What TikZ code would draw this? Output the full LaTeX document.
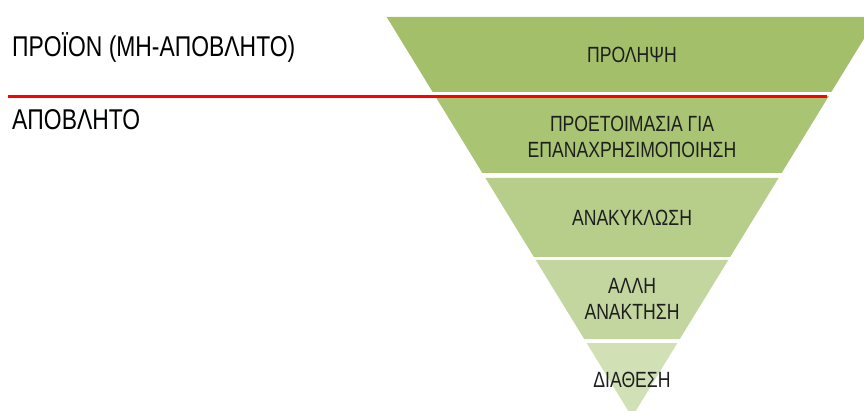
\documentclass[tikz,border=0pt]{standalone}
\usepackage{fontspec}
\setmainfont[FakeStretch=0.8]{Liberation Sans}
\definecolor{bandA}{HTML}{A3BF69}
\definecolor{bandB}{HTML}{A9C472}
\definecolor{bandC}{HTML}{B7CD8A}
\definecolor{bandD}{HTML}{C3D69F}
\definecolor{bandE}{HTML}{D1E1B5}
\definecolor{txt}{HTML}{1E1E1E}
\newcommand{\fband}[3]{%
  \fill[#3] ({632-(417-#1)*0.6133},#1) -- ({632+(417-#1)*0.6133},#1)
    -- ({632+(417-#2)*0.6133},#2) -- ({632-(417-#2)*0.6133},#2) -- cycle;}
\begin{document}
\begin{tikzpicture}[x=1pt,y=-1pt,
  bandlabel/.style={inner sep=0pt, text=txt, font=\fontsize{22}{26}\selectfont, align=center},
  sidelabel/.style={inner sep=0pt, text=black, font=\fontsize{28.6}{32}\selectfont, anchor=base west}]
\useasboundingbox (0,0) rectangle (864,411);
\clip (0,0) rectangle (864,411);
\fband{17}{92}{bandA}
\fband{96}{173}{bandB}
\fband{178}{257}{bandC}
\fband{260}{339}{bandD}
\fband{343}{417}{bandE}
\coordinate (rl) at (8,97);
\coordinate (rr) at (827,97);
\draw[red, line width=3pt] (rl) -- (rr);
\node[sidelabel] (prod) at (12,57) {ΠΡΟΪΟΝ (ΜΗ-ΑΠΟΒΛΗΤΟ)};
\node[sidelabel] (waste) at (12,130) {ΑΠΟΒΛΗΤΟ};
\node[bandlabel, anchor=base] (l1) at (632,63) {ΠΡΟΛΗΨΗ};
\node[bandlabel, anchor=north] (l2) at (632,116) {ΠΡΟΕΤΟΙΜΑΣΙΑ ΓΙΑ\\ΕΠΑΝΑΧΡΗΣΙΜΟΠΟΙΗΣΗ};
\node[bandlabel, anchor=base] (l3) at (632,226) {ΑΝΑΚΥΚΛΩΣΗ};
\node[bandlabel, anchor=north] (l4) at (632,278) {ΑΛΛΗ\\ΑΝΑΚΤΗΣΗ};
\node[bandlabel, anchor=base] (l5) at (632,387) {ΔΙΑΘΕΣΗ};
\end{tikzpicture}
\end{document}
